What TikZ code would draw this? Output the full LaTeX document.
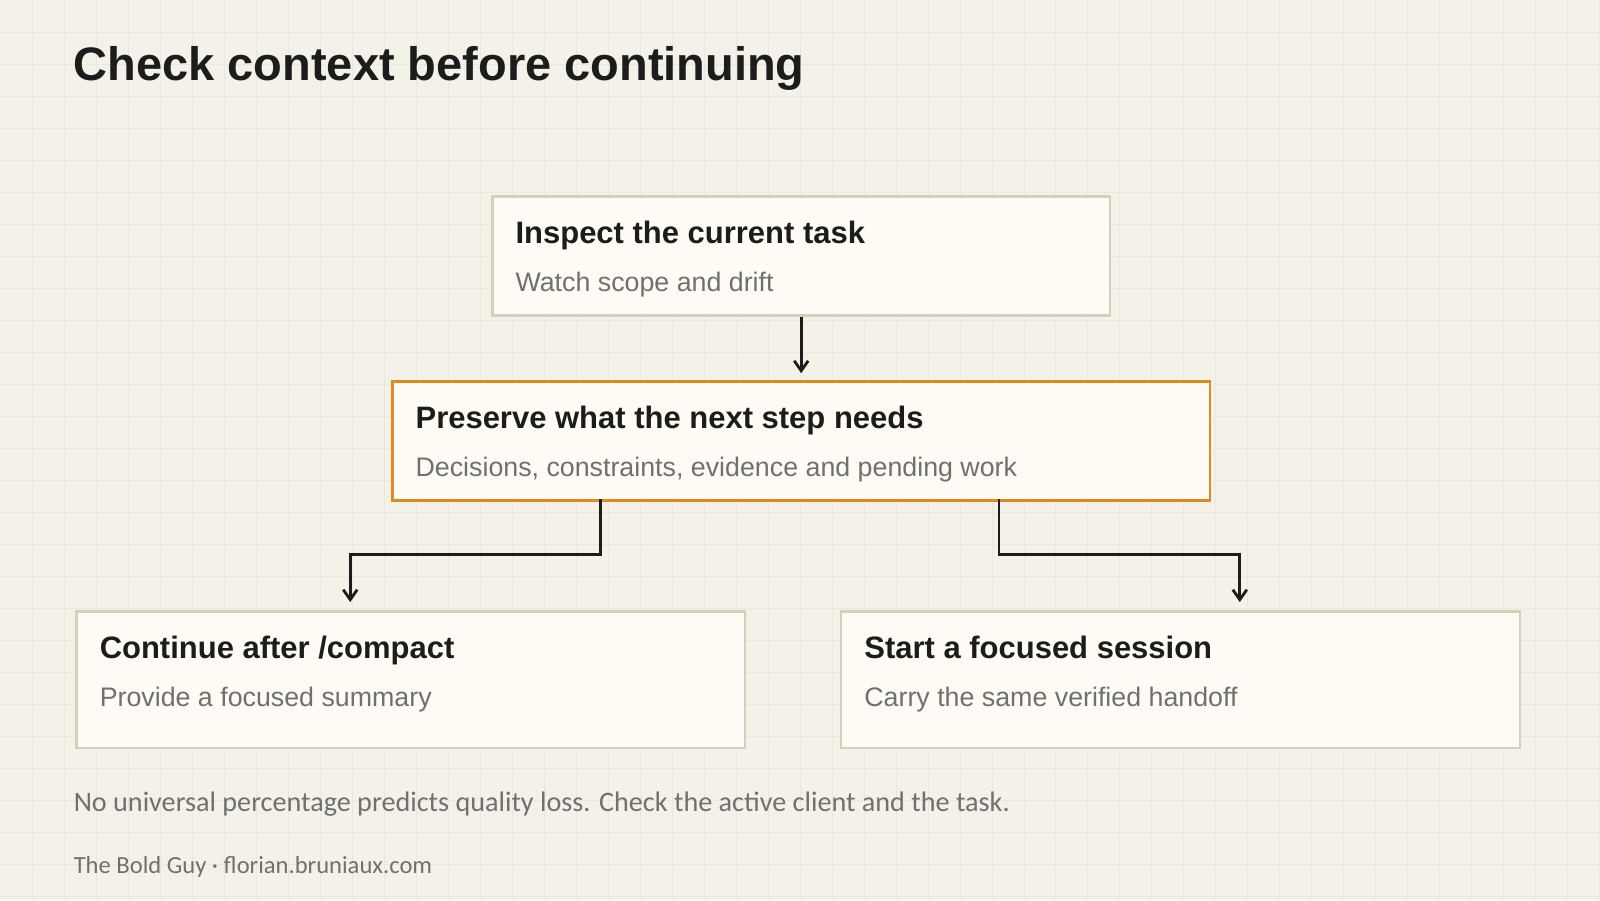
\documentclass[tikz,border=0pt]{standalone}
\usepackage{fontspec}
\setmainfont{Liberation Sans}
\newfontfamily\handfont{Carlito}
\usetikzlibrary{positioning,calc,arrows.meta}
\definecolor{paper}{HTML}{F3F1E8}
\definecolor{gridc}{HTML}{EAE7DC}
\definecolor{boxfill}{HTML}{FDFBF4}
\definecolor{boxline}{HTML}{D3D0BC}
\definecolor{accent}{HTML}{E08A1E}
\definecolor{ink}{HTML}{1C1C1C}
\definecolor{subtext}{HTML}{707070}
\tikzset{
  step box/.style={draw=boxline,line width=1.2pt,fill=boxfill,inner sep=0pt,anchor=north west},
  box title/.style={anchor=base west,inner sep=0pt,font=\fontsize{15.5}{18}\selectfont\bfseries,text=ink},
  box sub/.style={anchor=base west,inner sep=0pt,font=\fontsize{13.4}{16}\selectfont,text=subtext},
  link/.style={draw=ink,line width=1.4pt,-{Straight Barb[length=5pt,width=7pt]}},
}
\begin{document}
\begin{tikzpicture}[x=0.5pt,y=-0.5pt]
  \fill[paper] (0,0) rectangle (1600,900);
  \foreach \i in {32,64,...,1600} \draw[gridc,line width=0.4pt] (\i,0) -- (\i,900);
  \foreach \j in {32,64,...,896} \draw[gridc,line width=0.4pt] (0,\j) -- (1600,\j);
  \useasboundingbox (0,0) rectangle (1600,900);
  % title
  \node[anchor=base west,inner sep=0pt,font=\fontsize{23.5}{28}\selectfont\bfseries,text=ink] (head) at (73,80) {Check context before continuing};
  % boxes
  \node[step box,minimum width=309pt,minimum height=59.5pt] (inspect) at (491,195) {};
  \node[step box,draw=accent,minimum width=409pt,minimum height=59.5pt] (keep) at (391,380) {};
  \node[step box,minimum width=334.5pt,minimum height=68.5pt] (cont) at (75,610) {};
  \node[step box,minimum width=339.5pt,minimum height=68.5pt] (fresh) at (840,610) {};
  \node[box title] (inspectT) at ($(inspect.north west)+(24,48)$) {Inspect the current task};
  \node[box sub] (inspectS) at ($(inspect.north west)+(24,96)$) {Watch scope and drift};
  \node[box title] (keepT) at ($(keep.north west)+(24,48)$) {Preserve what the next step needs};
  \node[box sub] (keepS) at ($(keep.north west)+(24,96)$) {Decisions, constraints, evidence and pending work};
  \node[box title] (contT) at ($(cont.north west)+(24,48)$) {Continue after /compact};
  \node[box sub] (contS) at ($(cont.north west)+(24,96)$) {Provide a focused summary};
  \node[box title] (freshT) at ($(fresh.north west)+(24,48)$) {Start a focused session};
  \node[box sub] (freshS) at ($(fresh.north west)+(24,96)$) {Carry the same verified handoff};
  % connectors
  \coordinate (keepL) at (600,499);
  \coordinate (keepR) at (999,499);
  \coordinate (contIn) at (350,602);
  \coordinate (freshIn) at (1240,602);
  \draw[link] (inspect.south) -- ($(keep.north)+(0,-7)$);
  \draw[link] (keepL) -- (600,554) -| (contIn);
  \draw[link] (keepR) -- (999,554) -| (freshIn);
  % footer
  \node[anchor=base west,inner sep=0pt,font=\handfont\fontsize{14.1}{17}\selectfont,text=subtext] (note) at (73,811) {No universal percentage predicts quality loss. Check the active client and the task.};
  \node[anchor=base west,inner sep=0pt,font=\handfont\fontsize{12.3}{15}\selectfont,text=subtext] (credit) at (73,874) {The Bold Guy · florian.bruniaux.com};
\end{tikzpicture}
\end{document}
